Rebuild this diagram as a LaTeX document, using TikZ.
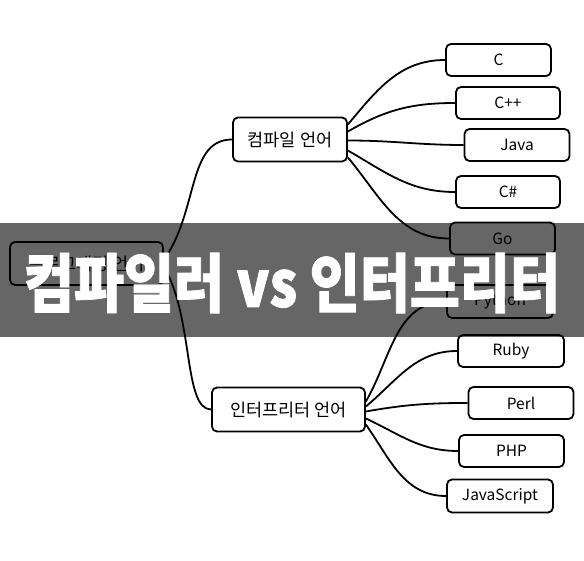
\documentclass[tikz,border=0pt]{standalone}
\usepackage{fontspec}
\setmainfont{Noto Sans CJK KR}
\newfontfamily\titlefont[FakeStretch=0.85, BoldFeatures={FakeBold=1.2}]{Noto Sans CJK KR}
\begin{document}
\begin{tikzpicture}[x=1pt,y=1pt,
  box/.style={draw=black, line width=1.8pt, rounded corners=5pt, fill=white, inner sep=0pt, align=center},
  leaf/.style={box, minimum width=105pt, minimum height=32pt, font=\fontsize{15.5}{18}\selectfont},
  mid/.style={box, minimum height=44pt, font=\fontsize{17.5}{20}\selectfont},
  link/.style={line width=1.8pt, black},
  banner/.style={fill=black, opacity=0.6}
]
\useasboundingbox (0,0) rectangle (584,560);
\fill[white] (0,0) rectangle (584,560);
% nodes
\node[mid, minimum width=153pt, minimum height=43pt] (root) at (86.5,296.5) {프로그래밍 언어};
\node[mid, minimum width=114pt] (cmp) at (290,420.5) {컴파일 언어};
\node[mid, minimum width=153pt] (itp) at (288.5,150.5) {인터프리터 언어};
\node[leaf] (c) at (498.5,500) {C};
\node[leaf, minimum width=104pt] (cpp) at (508,457) {C++};
\node[leaf] (java) at (517,415) {Java};
\node[leaf, minimum width=104pt] (cs) at (508,368) {C\#};
\node[leaf] (go) at (502.5,321.5) {Go};
\node[leaf, minimum width=106pt, minimum height=33pt] (py) at (500,258.5) {Python};
\node[leaf, minimum width=106pt] (ruby) at (511,209) {Ruby};
\node[leaf] (perl) at (521,157) {Perl};
\node[leaf] (php) at (511.5,109) {PHP};
\node[leaf, minimum width=106pt, minimum height=33pt] (js) at (500,64) {JavaScript};
% connectors
\draw[link] ([yshift=3.5pt]root.east) .. controls +(35,50) and +(-45,0) .. (cmp.west);
\draw[link] ([yshift=-3.5pt]root.east) .. controls +(30,-50) and +(-28,0) .. (itp.west);
\draw[link] ([yshift=15pt]cmp.east) to[out=50,in=180] (c.west);
\draw[link] ([yshift=8pt]cmp.east) to[out=30,in=180] (cpp.west);
\draw[link] ([yshift=-1pt]cmp.east) to[out=0,in=180] (java.west);
\draw[link] ([yshift=-11pt]cmp.east) to[out=-30,in=180] (cs.west);
\draw[link] ([yshift=-18pt]cmp.east) to[out=-50,in=180] (go.west);
\draw[link] ([yshift=8pt]itp.east) to[out=60,in=180] (py.west);
\draw[link] ([yshift=3pt]itp.east) to[out=40,in=180] (ruby.west);
\draw[link] ([yshift=-2pt]itp.east) to[out=10,in=180] (perl.west);
\draw[link] ([yshift=-9pt]itp.east) to[out=-25,in=180] (php.west);
\draw[link] ([yshift=-15pt]itp.east) to[out=-55,in=180] (js.west);
% banner
\fill[banner] (0,223) rectangle (584,337);
\node[text=white, inner sep=0pt, font=\titlefont\bfseries\fontsize{64}{68}\selectfont] (title) at (292,277) {컴파일러 vs 인터프리터};
\end{tikzpicture}
\end{document}
